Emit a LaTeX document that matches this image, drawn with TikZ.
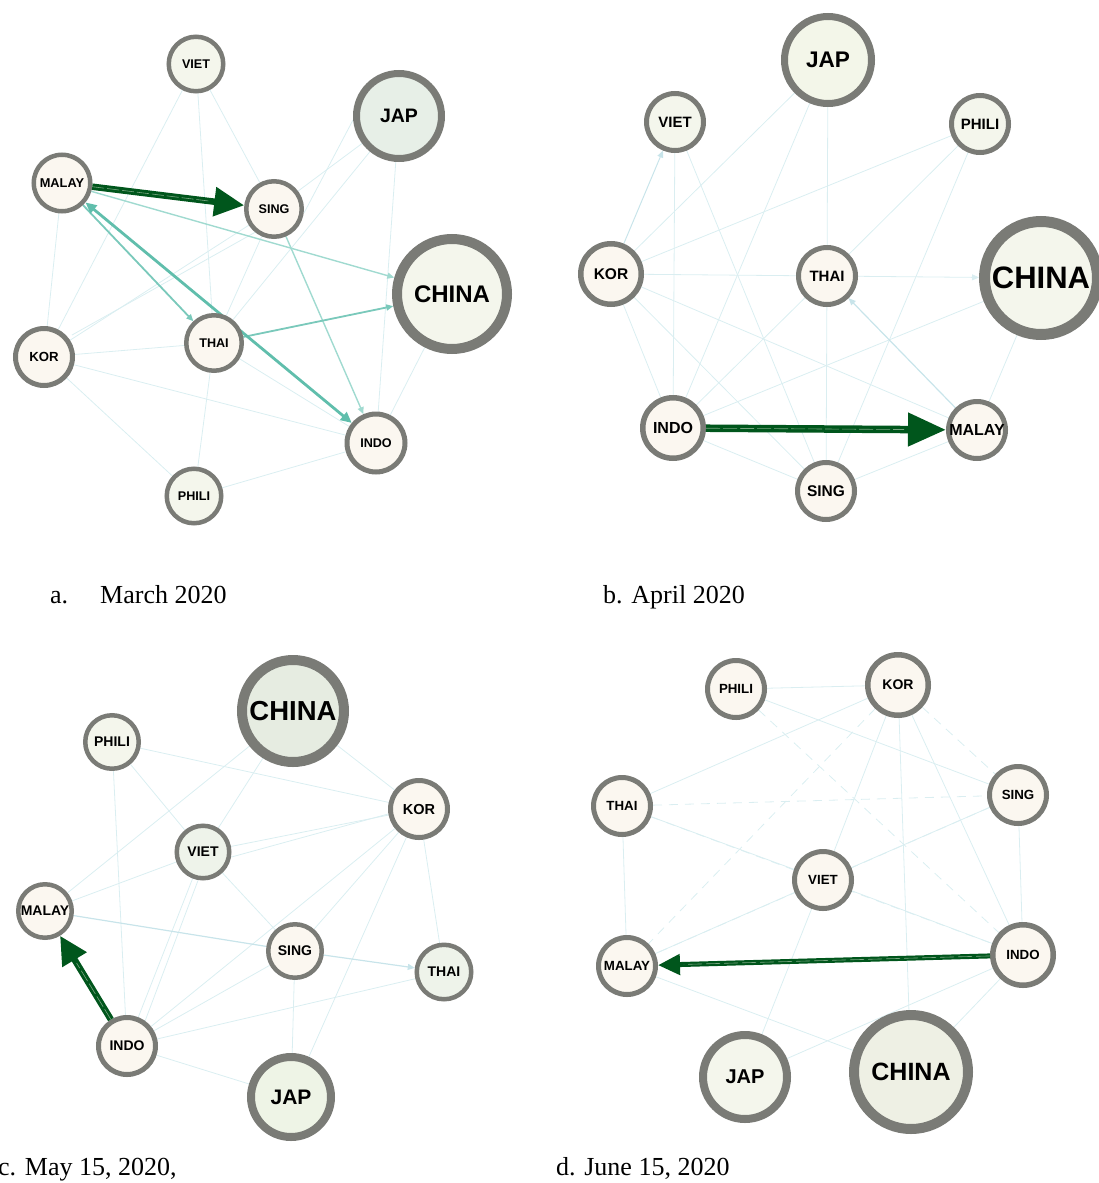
\documentclass[tikz,border=0pt]{standalone}
\usepackage{fontspec}
\setmainfont{Liberation Serif}
\setsansfont{Liberation Sans}
\usetikzlibrary{arrows.meta,backgrounds}
\definecolor{bgray}{RGB}{122,123,118}
\definecolor{fcream}{RGB}{251,247,240}
\definecolor{fpale}{RGB}{244,246,236}
\definecolor{fmint}{RGB}{231,239,231}
\definecolor{fsage}{RGB}{230,236,225}
\definecolor{fmint2}{RGB}{238,243,234}
\definecolor{fjap}{RGB}{238,244,230}
\definecolor{fchd}{RGB}{238,240,228}
\definecolor{fjapb}{RGB}{243,246,233}
\definecolor{faintc}{RGB}{218,238,241}
\definecolor{faintd}{RGB}{200,228,234}
\definecolor{tealA}{RGB}{96,190,172}
\definecolor{tealB}{RGB}{122,201,187}
\definecolor{tealC}{RGB}{160,218,208}
\definecolor{dgreen}{RGB}{0,86,28}
\definecolor{cline}{RGB}{120,165,128}
\newcommand\cnode[8]{%
  \node[cn, line width=#5pt, minimum size={2*#4pt-#5pt}, fill=#6,
        font={\sffamily\bfseries\fontsize{#7}{#7}\selectfont}] (#1) at (#2,#3) {#8};}
\tikzset{
  cn/.style={circle, draw=bgray, inner sep=0pt},
  faint/.style={draw=faintc, line width=0.8pt},
  faintdk/.style={draw=faintd, line width=1pt},
  fdash/.style={draw=faintc, line width=0.8pt, dash pattern=on 9pt off 7pt},
  smalltip/.style={-{Triangle[length=7pt,width=6pt]}},
  bigarrow/.style={draw=dgreen, line width=#1pt},
  captxt/.style={anchor=base west, inner sep=0pt, font=\fontsize{26}{30}\selectfont},
}
\begin{document}
\begin{tikzpicture}[x=1pt,y=-1pt]
\useasboundingbox (0,0) rectangle (1099,1183);
% ---------------- panel a
\cnode{va}{196}{64}{29.5}{4.5}{fpale}{12.6}{VIET}
\cnode{ja}{399}{116}{46}{7}{fmint}{19.5}{JAP}
\cnode{ma}{62}{183}{30.5}{4.5}{fcream}{12.8}{MALAY}
\cnode{sa}{274}{209}{30}{4.5}{fcream}{12.6}{SING}
\cnode{ca}{452}{294}{60}{10}{fpale}{24}{CHINA}
\cnode{ka}{44}{357}{31}{5}{fcream}{13.2}{KOR}
\cnode{ta}{214}{343}{30}{4.5}{fcream}{12.6}{THAI}
\cnode{ia}{376}{443}{31.5}{5}{fcream}{12.6}{INDO}
\cnode{pa}{194}{496}{29.5}{4.5}{fpale}{12.6}{PHILI}
\begin{pgfonlayer}{background}
\foreach \a/\b in {va/ka,va/ta,va/sa,ja/sa,ja/ta,ja/ia,ma/ka,ka/sa,sa/ta,ta/pa,ka/ta,ka/ia,ka/pa,pa/ia,ta/ia,ca/ia,ta/ca}
  \draw[faint] (\a) -- (\b);
\draw[faint] ([yshift=-4pt]ja.west) -- ([yshift=-4pt]sa.east);
\draw[faint] ([xshift=6pt]ka.north east) -- ([xshift=6pt]sa.south west);
\draw[tealC, line width=1.4pt, smalltip] (ma) -- (ca);
\draw[tealC, line width=1.4pt, smalltip] (sa) -- (ia);
\draw[tealB, line width=1.8pt, smalltip] (ma) -- (ta);
\draw[tealB, line width=1.8pt, smalltip] (ta) -- (ca);
\draw[tealA, line width=2.8pt, {Triangle[length=11pt,width=10pt]}-{Triangle[length=11pt,width=10pt]}] (ia) -- (ma);
\end{pgfonlayer}
\draw[bigarrow=6.5, -{Triangle[length=30pt,width=28pt]}] (ma) -- (sa);
\draw[cline, line width=0.6pt, dash pattern=on 12pt off 3pt, shorten >=34pt] (ma) -- (sa);
% ---------------- panel b
\cnode{jb}{828}{60}{47}{7}{fjapb}{22.6}{JAP}
\cnode{vb}{675}{122}{31}{5}{fpale}{15}{VIET}
\cnode{pb}{980}{124}{31}{5}{fpale}{15}{PHILI}
\cnode{kb}{611}{274}{33}{5.5}{fcream}{15.5}{KOR}
\cnode{tb}{827}{276}{31}{5}{fcream}{15}{THAI}
\cnode{cb}{1041}{278}{62}{11}{fpale}{31}{CHINA}
\cnode{ib}{673}{428}{33}{5.5}{fcream}{16}{INDO}
\cnode{mb}{977}{430}{31}{5}{fcream}{16}{MALAY}
\cnode{sb}{826}{491}{31}{5}{fcream}{15.5}{SING}
\begin{pgfonlayer}{background}
\foreach \a/\b in {kb/tb,kb/pb,vb/ib,vb/sb,jb/tb,jb/ib,jb/kb,pb/tb,pb/sb,kb/mb,kb/ib,kb/sb,tb/ib,tb/sb,cb/ib,cb/mb,ib/sb,sb/mb}
  \draw[faint] (\a) -- (\b);
\draw[faint, smalltip] (tb) -- (cb);
\draw[faintdk, smalltip] (kb) -- (vb);
\draw[faintdk, line width=1.2pt, smalltip] (mb) -- (tb);
\end{pgfonlayer}
\draw[bigarrow=7.5, -{Triangle[length=38pt,width=32pt]}] (ib) -- (mb);
\draw[cline, line width=0.6pt, dash pattern=on 14pt off 3pt, shorten >=42pt] (ib) -- (mb);
% ---------------- panel c
\cnode{cc}{293}{711}{56}{10}{fsage}{27.5}{CHINA}
\cnode{pc}{112}{742}{29}{4.5}{fpale}{14}{PHILI}
\cnode{kc}{419}{809}{31}{5}{fcream}{14.5}{KOR}
\cnode{vc}{203}{852}{28.5}{4.5}{fmint2}{14}{VIET}
\cnode{mc}{45}{911}{29}{4.5}{fcream}{14}{MALAY}
\cnode{sc}{295}{951}{29}{4.5}{fcream}{14}{SING}
\cnode{tc}{444}{972}{29.5}{4.5}{fmint2}{14}{THAI}
\cnode{ic}{127}{1046}{31}{5}{fcream}{14}{INDO}
\cnode{jc}{291}{1097}{44}{8}{fjap}{21}{JAP}
\begin{pgfonlayer}{background}
\foreach \a/\b in {pc/kc,cc/kc,pc/vc,pc/ic,cc/mc,cc/vc,vc/kc,vc/mc,vc/sc,vc/ic,kc/sc,kc/ic,kc/jc,kc/tc,sc/ic,sc/jc,ic/tc,ic/jc}
  \draw[faint] (\a) -- (\b);
\draw[faint] ([xshift=-5pt]vc.south) -- ([xshift=-5pt]ic.north east);
\draw[faint] ([yshift=-5pt]vc.east) -- ([yshift=-5pt]kc.west);
\draw[faintdk, line width=1.2pt] (mc) -- (sc);
\draw[faintdk, line width=1.2pt, smalltip] (sc) -- (tc);
\end{pgfonlayer}
\draw[bigarrow=6.5, -{Triangle[length=28pt,width=27pt]}] (ic) -- (mc);
\draw[cline, line width=0.6pt, dash pattern=on 12pt off 3pt, shorten >=32pt] (ic) -- (mc);
% ---------------- panel d
\cnode{pd}{736}{689}{31}{5}{fcream}{13.3}{PHILI}
\cnode{kd}{898}{685}{33}{5.5}{fcream}{14}{KOR}
\cnode{td}{622}{806}{31}{5}{fcream}{13.3}{THAI}
\cnode{sd}{1018}{795}{31}{5}{fcream}{13.3}{SING}
\cnode{vd}{823}{880}{31}{5}{fcream}{13.3}{VIET}
\cnode{md}{627}{966}{31}{5}{fcream}{13.3}{MALAY}
\cnode{id}{1023}{955}{33}{5.5}{fcream}{13.3}{INDO}
\cnode{jd}{745}{1077}{46}{8}{fpale}{20}{JAP}
\cnode{cd}{911}{1072}{62}{10}{fchd}{25}{CHINA}
\begin{pgfonlayer}{background}
\foreach \a/\b in {pd/kd,pd/sd,kd/td,kd/vd,kd/cd,kd/id,td/vd,td/md,sd/vd,sd/id,vd/id,vd/md,vd/jd,md/cd,id/cd,jd/id}
  \draw[faint] (\a) -- (\b);
\foreach \a/\b in {pd/id,kd/md,kd/sd,td/sd,sd/md,td/id}
  \draw[fdash] (\a) -- (\b);
\end{pgfonlayer}
\draw[bigarrow=5, -{Triangle[length=22pt,width=20pt]}] (id) -- (md);
\draw[cline, line width=0.6pt, dash pattern=on 14pt off 4pt, shorten >=26pt] (id) -- (md);
% ---------------- captions
\node[captxt] (capa1) at (50,603) {a.};
\node[captxt] (capa2) at (100,603) {March 2020};
\node[captxt] (capb) at (603,603) {b. April 2020};
\node[captxt] (capc) at (-2,1175) {c. May 15, 2020,};
\node[captxt] (capd) at (556,1175) {d. June 15, 2020};
\end{tikzpicture}
\end{document}
